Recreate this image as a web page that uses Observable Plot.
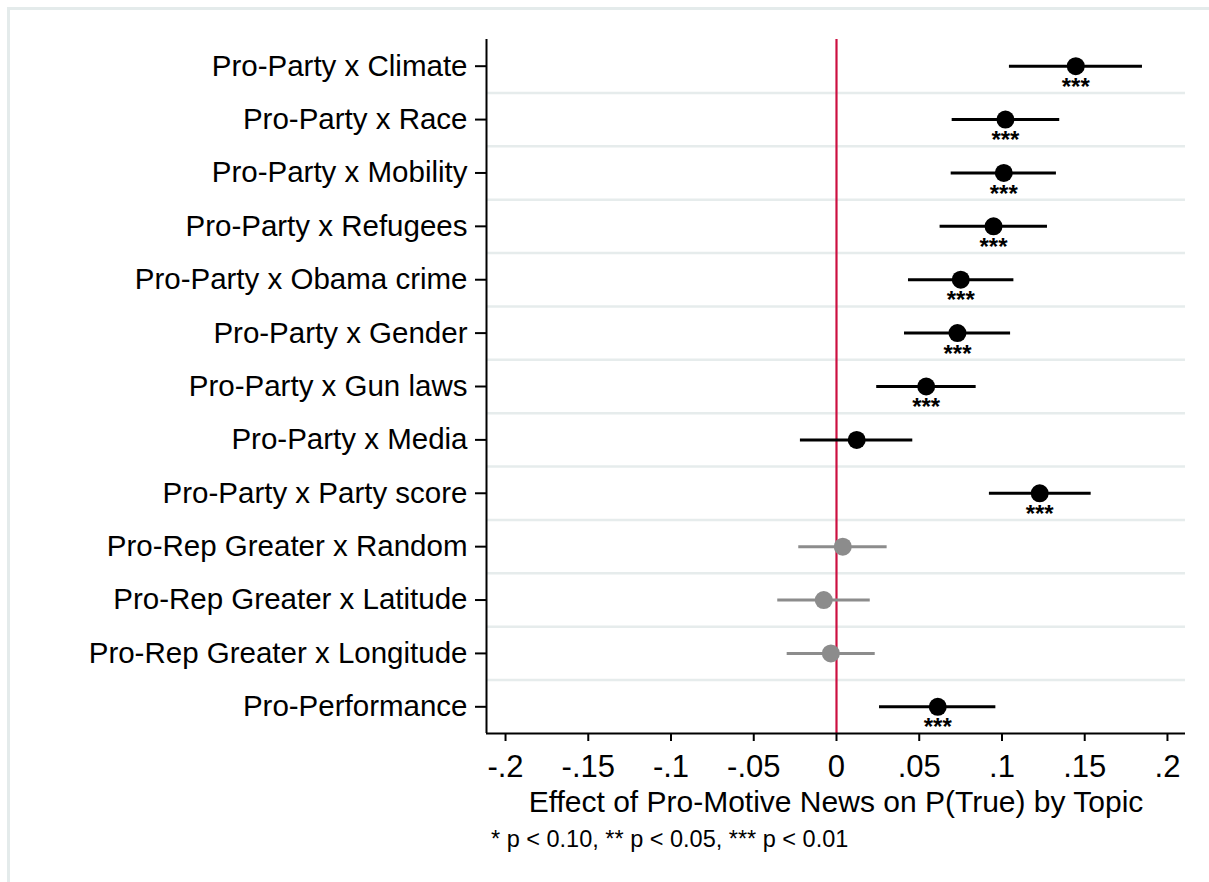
<!DOCTYPE html>
<html>
<head>
<meta charset="utf-8">
<script src="https://cdn.jsdelivr.net/npm/d3@7"></script>
<script src="https://cdn.jsdelivr.net/npm/@observablehq/plot@0.6"></script>
<style>
  html, body { margin: 0; padding: 0; background: #fff; }
  #wrap { position: relative; width: 1209px; height: 882px; overflow: hidden; }
  #frame { position: absolute; left: 7px; top: 7px; width: 1300px; height: 1000px;
           border-left: 3px solid #e4ebeb; border-top: 3px solid #e4ebeb; }
  #chart { position: absolute; left: 0; top: 0; }
  #note { position: absolute; left: 491px; top: 826px; font-family: "Liberation Sans", Arial, sans-serif;
          font-size: 23.5px; color: #000; white-space: pre; }
</style>
</head>
<body>
<div id="wrap">
  <div id="frame"></div>
  <div id="chart"></div>
  <div id="note">* p &lt; 0.10, ** p &lt; 0.05, *** p &lt; 0.01</div>
</div>
<script>
// Coefficient estimates with 95% intervals, one row per topic interaction
const topics = [
  "Pro-Party x Climate",
  "Pro-Party x Race",
  "Pro-Party x Mobility",
  "Pro-Party x Refugees",
  "Pro-Party x Obama crime",
  "Pro-Party x Gender",
  "Pro-Party x Gun laws",
  "Pro-Party x Media",
  "Pro-Party x Party score",
  "Pro-Rep Greater x Random",
  "Pro-Rep Greater x Latitude",
  "Pro-Rep Greater x Longitude",
  "Pro-Performance"
];
const estimates = [0.1446, 0.1021, 0.1011, 0.0949, 0.0751, 0.0731, 0.0542, 0.0122, 0.1228, 0.0038, -0.0077, -0.0034, 0.0612];
const lower     = [0.1045, 0.0699, 0.0693, 0.0626, 0.0435, 0.0411, 0.0243, -0.0218, 0.0924, -0.0228, -0.0355, -0.0298, 0.0260];
const upper     = [0.1849, 0.1349, 0.1329, 0.1275, 0.1072, 0.1052, 0.0844, 0.0461, 0.1539, 0.0306, 0.0204, 0.0234, 0.0963];
const stars     = ["***", "***", "***", "***", "***", "***", "***", "", "***", "", "", "", "***"];
const placebo   = [false, false, false, false, false, false, false, false, false, true, true, true, false];

const xTicks = [-0.2, -0.15, -0.1, -0.05, 0, 0.05, 0.1, 0.15, 0.2];
const xTickLabels = ["-.2", "-.15", "-.1", "-.05", "0", ".05", ".1", ".15", ".2"];

const rows = topics.map((t, i) => ({
  i, topic: t, est: estimates[i], lo: lower[i], hi: upper[i], stars: stars[i],
  color: placebo[i] ? "#8c8c8c" : "#000000"
}));

const xDomain = [-0.2115, 0.2109];
const n = topics.length;

const chart = Plot.plot({
  width: 1209,
  height: 835,
  marginLeft: 486,
  marginRight: 24,
  marginTop: 39,
  marginBottom: 102,
  style: { fontFamily: "'Liberation Sans', Arial, sans-serif", fontSize: "29.5px", background: "transparent", color: "#000" },
  x: { domain: xDomain },
  y: { domain: [-0.5, n - 0.5], reverse: true },
  marks: [
    // light separators between rows
    Plot.ruleY(d3.range(0.5, n - 1, 1), { x1: xDomain[0], x2: xDomain[1], stroke: "#e6ecec", strokeWidth: 2.5 }),
    // reference line at zero
    Plot.ruleX([0], { stroke: "#cc1040", strokeWidth: 2.2 }),
    // confidence intervals
    Plot.ruleY(rows, { y: "i", x1: "lo", x2: "hi", stroke: "color", strokeWidth: 3 }),
    // point estimates
    Plot.dot(rows, { x: "est", y: "i", r: 9, fill: "color", stroke: null }),
    // significance stars
    Plot.text(rows.filter(d => d.stars), { x: "est", y: "i", text: "stars", dy: 21, fontSize: 24, fontWeight: "bold", fill: "#000" }),
    // axis lines
    Plot.ruleX([xDomain[0]], { stroke: "#000", strokeWidth: 2 }),
    Plot.ruleY([n - 0.5], { stroke: "#000", strokeWidth: 2 }),
    Plot.axisY(d3.range(n), {
      tickFormat: i => topics[i], tickSize: 11, tickPadding: 8, strokeWidth: 2, label: null
    }),
    Plot.axisX(xTicks, {
      tickFormat: (d, k) => xTickLabels[k], tickSize: 8, tickPadding: 13, strokeWidth: 2, fontSize: 31,
      label: null
    }),
    Plot.axisX({
      ticks: [], label: "Effect of Pro-Motive News on P(True) by Topic", labelAnchor: "center",
      labelArrow: "none", labelOffset: 78, fontSize: 30
    })
  ]
});
document.getElementById("chart").appendChild(chart);
</script>
</body>
</html>
